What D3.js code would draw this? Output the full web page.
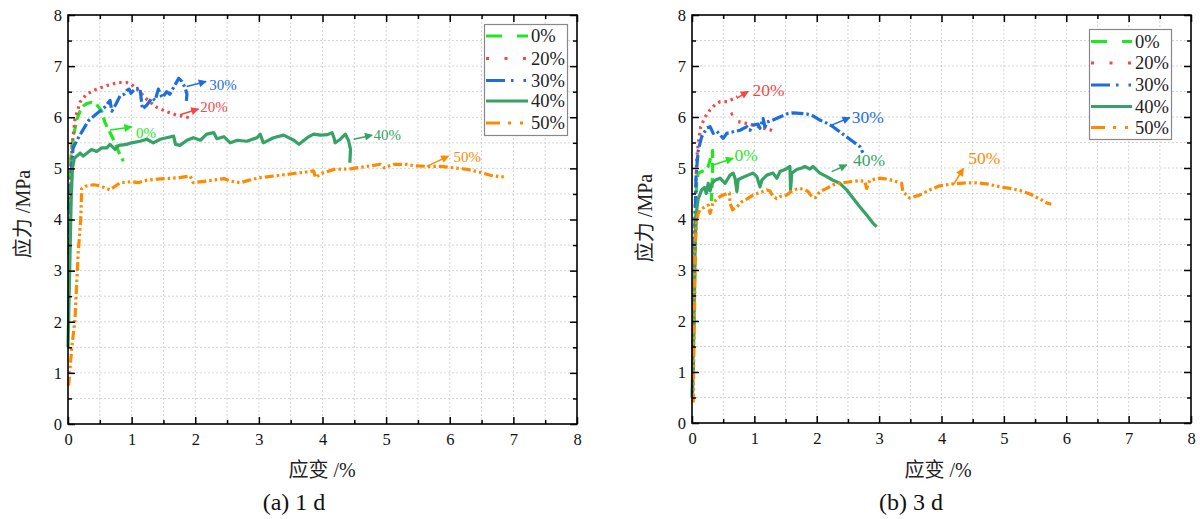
<!DOCTYPE html>
<html><head><meta charset="utf-8">
<script src="https://cdn.jsdelivr.net/npm/d3@7/dist/d3.min.js"></script>
<style>
body{margin:0;background:#fff;}
</style></head>
<body><svg id="c" width="1200" height="519"></svg>
<script>
// ---------- data ----------
const seriesNames = ["0%","20%","30%","40%","50%"];
const seriesColors = ["#1fe81f","#f24848","#1c6ee0","#37a266","#ff8a00"];
const xTickValues = [0,1,2,3,4,5,6,7,8];
const yTickValues = [0,1,2,3,4,5,6,7,8];
const xTitle = "应变 /%";
const yTitle = "应力 /MPa";
const captions = ["(a) 1 d","(b) 3 d"];

// 1 d curves [strain %, stress MPa]; null marks a gap
const d1_0 = [[0.01,4.2],[0.03,4.7],[0.05,5.3],[0.08,5.6],[0.14,5.96],[0.19,6.12],[0.24,6.22],[0.3,6.27],[0.37,6.29],[0.45,6.25],[0.53,6.12],[0.58,5.9],[0.66,5.7],[0.74,5.5],[0.79,5.34],[0.87,5.14]];
const d1_20 = [[0.02,4.4],[0.04,5.0],[0.07,5.5],[0.11,5.96],[0.19,6.3],[0.29,6.45],[0.45,6.55],[0.61,6.62],[0.79,6.68],[0.92,6.68],[1.0,6.64],[1.11,6.52],[1.24,6.35],[1.4,6.19],[1.55,6.11],[1.71,6.04],[1.84,6.01],[1.96,5.98]];
const d1_30 = [[0.02,3.3],[0.04,4.3],[0.06,5.1],[0.08,5.4],[0.14,5.55],[0.21,5.7],[0.32,5.93],[0.45,6.07],[0.58,6.2],[0.66,6.33],[0.69,6.12],[0.75,6.25],[0.82,6.42],[0.88,6.45],[0.92,6.52],[0.96,6.55],[0.99,6.47],[1.06,6.56],[1.13,6.57],[1.17,6.16],[1.24,6.24],[1.32,6.38],[1.37,6.33],[1.42,6.55],[1.48,6.38],[1.55,6.5],[1.6,6.45],[1.69,6.65],[1.74,6.76],[1.79,6.7],[1.84,6.58],[1.87,6.45],[1.86,6.32]];
const d1_40 = [[0.0,1.5],[0.03,3.2],[0.05,4.4],[0.07,5.0],[0.1,5.2],[0.14,5.24],[0.19,5.3],[0.24,5.24],[0.3,5.3],[0.37,5.37],[0.45,5.33],[0.53,5.4],[0.61,5.4],[0.66,5.47],[0.74,5.37],[0.8,5.45],[0.92,5.47],[1.0,5.5],[1.13,5.53],[1.24,5.57],[1.34,5.5],[1.45,5.57],[1.55,5.6],[1.66,5.63],[1.69,5.47],[1.76,5.45],[1.87,5.55],[1.97,5.6],[2.08,5.55],[2.18,5.67],[2.29,5.7],[2.34,5.58],[2.45,5.62],[2.55,5.5],[2.66,5.55],[2.81,5.53],[2.97,5.6],[3.02,5.67],[3.07,5.5],[3.23,5.6],[3.39,5.65],[3.55,5.55],[3.63,5.47],[3.76,5.6],[3.86,5.67],[3.97,5.65],[4.08,5.66],[4.15,5.7],[4.18,5.6],[4.2,5.5],[4.28,5.57],[4.36,5.67],[4.41,5.54],[4.44,5.37],[4.43,5.11]];
const d1_50 = [[0.01,0.75],[0.06,1.5],[0.11,2.05],[0.16,3.35],[0.2,4.0],[0.215,4.6],[0.27,4.65],[0.4,4.68],[0.5,4.66],[0.58,4.62],[0.66,4.58],[0.74,4.65],[0.82,4.72],[1.0,4.74],[1.1,4.72],[1.24,4.77],[1.4,4.79],[1.55,4.8],[1.75,4.82],[1.92,4.85],[1.97,4.72],[2.1,4.74],[2.34,4.78],[2.45,4.8],[2.55,4.75],[2.71,4.72],[2.85,4.77],[3.02,4.82],[3.3,4.86],[3.55,4.9],[3.75,4.93],[3.86,4.95],[3.89,4.82],[3.98,4.9],[4.18,4.98],[4.44,4.99],[4.7,5.04],[4.91,5.08],[4.97,5.01],[5.12,5.08],[5.33,5.08],[5.45,5.05],[5.65,5.04],[5.86,5.04],[6.07,5.01],[6.28,4.98],[6.49,4.92],[6.65,4.86],[6.86,4.83]];

// 3 d curves
const d3_0 = [[0.02,1.0],[0.04,2.5],[0.055,3.8],[0.064,4.18],[0.075,4.7],[0.1,4.9],[0.155,4.93],[0.2,4.95],[0.26,5.03],[0.29,5.16],[0.32,5.29],[0.33,5.34],[0.33,4.96],[0.32,4.6],[0.31,4.35]];
const d3_20 = [[0.01,0.8],[0.03,2.5],[0.04,3.6],[0.05,4.18],[0.075,5.16],[0.1,5.48],[0.14,5.81],[0.21,6.0],[0.29,6.14],[0.37,6.24],[0.45,6.3],[0.56,6.3],[0.61,6.33],[0.69,6.37],[0.73,6.4],null,[0.62,6.05],[0.66,6.07],[0.7,6.1],null,[0.74,5.91],[0.85,5.88],[0.95,5.85],[1.04,5.82],[1.14,5.78],[1.25,5.75],[1.33,5.71]];
const d3_30 = [[0.01,0.6],[0.03,2.5],[0.05,4.0],[0.064,4.83],[0.1,5.35],[0.155,5.61],[0.235,5.78],[0.29,5.81],[0.34,5.68],[0.4,5.72],[0.45,5.65],[0.5,5.58],[0.56,5.68],[0.66,5.71],[0.77,5.74],[0.88,5.81],[0.93,5.74],[0.98,5.84],[1.06,5.86],[1.09,5.78],[1.14,5.97],[1.17,5.8],[1.2,5.9],[1.3,5.94],[1.41,6.0],[1.52,6.06],[1.62,6.08],[1.73,6.07],[1.84,6.06],[1.94,6.02],[2.05,5.94],[2.16,5.88],[2.26,5.81],[2.37,5.71],[2.48,5.61],[2.58,5.52],[2.69,5.42],[2.74,5.3]];
const d3_40 = [[0.0,0.5],[0.03,2.0],[0.05,3.5],[0.075,4.18],[0.1,4.4],[0.155,4.57],[0.2,4.62],[0.23,4.5],[0.26,4.7],[0.29,4.55],[0.32,4.7],[0.37,4.76],[0.45,4.8],[0.53,4.7],[0.61,4.86],[0.66,4.9],[0.69,4.8],[0.72,4.54],[0.74,4.77],[0.82,4.82],[0.9,4.86],[0.98,4.9],[1.04,4.83],[1.09,4.63],[1.12,4.76],[1.2,4.86],[1.3,4.9],[1.36,4.8],[1.41,4.93],[1.49,4.97],[1.57,5.03],[1.58,4.57],[1.6,4.9],[1.68,4.97],[1.76,5.0],[1.81,5.03],[1.89,4.98],[1.94,5.03],[2.0,4.96],[2.05,4.9],[2.16,4.83],[2.26,4.76],[2.37,4.7],[2.48,4.57],[2.58,4.41],[2.69,4.24],[2.8,4.08],[2.9,3.92],[2.96,3.85]];
const d3_50 = [[0.02,0.4],[0.03,1.5],[0.04,2.15],[0.05,3.46],[0.075,3.98],[0.1,4.11],[0.13,4.18],[0.21,4.24],[0.26,4.27],[0.29,4.11],[0.34,4.34],[0.4,4.38],[0.45,4.44],[0.5,4.47],[0.56,4.5],[0.6,4.51],[0.61,4.31],[0.65,4.18],[0.72,4.24],[0.8,4.34],[0.89,4.4],[0.98,4.47],[1.09,4.52],[1.2,4.57],[1.25,4.55],[1.3,4.44],[1.36,4.4],[1.41,4.44],[1.52,4.47],[1.62,4.57],[1.73,4.6],[1.81,4.57],[1.86,4.54],[1.92,4.44],[1.98,4.42],[2.05,4.54],[2.16,4.6],[2.26,4.67],[2.37,4.7],[2.53,4.73],[2.69,4.75],[2.77,4.74],[2.8,4.6],[2.85,4.76],[3.01,4.8],[3.15,4.78],[3.28,4.73],[3.36,4.7],[3.38,4.54],[3.49,4.41],[3.65,4.47],[3.81,4.57],[3.97,4.65],[4.19,4.69],[4.4,4.71],[4.56,4.71],[4.72,4.69],[4.94,4.63],[5.1,4.6],[5.26,4.56],[5.42,4.49],[5.58,4.39],[5.68,4.32],[5.76,4.29]];

// annotations: [label, series index, arrow x0, y0, arrow x1, y1, text x, text y] in data units
const notes1 = [["30%",2,1.866,6.60,2.17,6.70,2.22,6.63],["20%",1,1.76,6.05,2.05,6.16,2.08,6.20],["0%",0,0.66,5.75,1.0,5.81,1.07,5.70],["40%",3,4.49,5.57,4.78,5.65,4.80,5.65],["50%",4,5.64,5.04,5.98,5.24,6.06,5.22]];
const notes3 = [["0%",0,0.34,5.06,0.66,5.19,0.68,5.25],["20%",1,0.72,6.37,0.9,6.5,0.97,6.53],["30%",2,2.24,5.84,2.53,5.99,2.56,6.0],["40%",3,2.24,4.93,2.48,5.06,2.58,5.16],["50%",4,4.19,4.67,4.35,4.99,4.43,5.19]];

// ---------- drawing ----------
const FONT = '"Liberation Serif", "Noto Sans CJK SC", serif';
const svg = d3.select("#c").style("font-family", FONT);
const plotDash = ["10,5","2.5,4","12,3,2.5,3",null,"9,3,2.5,3,2.5,3"];
const legendDash = ["16,15","3,15.5","19,6,2.5,10,2.5,10",null,"14,8,3,9,3,9"];

const defs = svg.append("defs");
seriesColors.forEach((c,i)=>{
  defs.append("marker").attr("id","ar"+i).attr("viewBox","0 0 10 10")
    .attr("refX",9).attr("refY",5).attr("markerUnits","userSpaceOnUse")
    .attr("markerWidth",10).attr("markerHeight",8).attr("orient","auto")
    .append("path").attr("d","M0,0L10,5L0,10Z").attr("fill",c);
});

const panels = [
  {x0:68,x1:577,y0:424,y1:15,data:[d1_0,d1_20,d1_30,d1_40,d1_50],notes:notes1,noteSize:15,
   legend:{x:484.5,y:24.5,w:83,h:111,lx:486,lw:42,tx:531,rows:[36,58.5,80.5,101,123]},
   yt:{x:23,y:214},xt:{x:322,y:477},cap:{x:294,y:510}},
  {x0:692,x1:1191,y0:423,y1:15,data:[d3_0,d3_20,d3_30,d3_40,d3_50],notes:notes3,noteSize:17.5,
   legend:{x:1089.5,y:29.5,w:82,h:110,lx:1091,lw:41,tx:1135,rows:[41.5,63,85,106.5,127.5]},
   yt:{x:645,y:218},xt:{x:938,y:477},cap:{x:911,y:510}}
];

function txt(sel){ return sel.style("font-family", FONT); }

panels.forEach((p,pi)=>{
  const x = d3.scaleLinear().domain([0,8]).range([p.x0,p.x1]);
  const y = d3.scaleLinear().domain([0,8]).range([p.y0,p.y1]);
  const g = svg.append("g");
  // grid
  const gv = d3.range(0.5,8,0.5);
  g.selectAll(".gx").data(gv).join("line")
    .attr("x1",d=>x(d)).attr("x2",d=>x(d)).attr("y1",p.y0).attr("y2",p.y1)
    .attr("stroke","#c9c9c9").attr("stroke-width",0.8).attr("stroke-dasharray","2,2");
  g.selectAll(".gy").data(gv).join("line")
    .attr("y1",d=>y(d)).attr("y2",d=>y(d)).attr("x1",p.x0).attr("x2",p.x1)
    .attr("stroke","#c9c9c9").attr("stroke-width",0.8).attr("stroke-dasharray","2,2");

  // curves
  const line = d3.line().defined(d=>d!==null).x(d=>x(d[0])).y(d=>y(d[1]));
  p.data.forEach((arr,i)=>{
    g.append("path").attr("d",line(arr)).attr("fill","none")
      .attr("stroke",seriesColors[i]).attr("stroke-width",3.2)
      .attr("stroke-linejoin","round")
      .attr("stroke-dasharray",plotDash[i]);
  });

  // annotations
  p.notes.forEach(n=>{
    const c = seriesColors[n[1]];
    g.append("line").attr("x1",x(n[2])).attr("y1",y(n[3])).attr("x2",x(n[4])).attr("y2",y(n[5]))
      .attr("stroke",c).attr("stroke-width",1.5).attr("marker-end","url(#ar"+n[1]+")");
    txt(g.append("text")).attr("x",x(n[6])).attr("y",y(n[7])).attr("dy","0.35em")
      .attr("font-size",p.noteSize).attr("fill",c).text(n[0]);
  });

  // axes
  const majorT = 7, minorT = 4;
  const minorV = d3.range(0.5,8,1);
  const ax = [
    g.append("g").attr("transform",`translate(0,${p.y0})`).call(d3.axisBottom(x).tickValues(xTickValues).tickSize(-majorT).tickPadding(9).tickFormat(d3.format("d"))),
    g.append("g").attr("transform",`translate(0,${p.y0})`).call(d3.axisBottom(x).tickValues(minorV).tickSize(-minorT).tickFormat("")),
    g.append("g").attr("transform",`translate(0,${p.y1})`).call(d3.axisTop(x).tickValues(xTickValues).tickSize(-majorT).tickFormat("")),
    g.append("g").attr("transform",`translate(0,${p.y1})`).call(d3.axisTop(x).tickValues(minorV).tickSize(-minorT).tickFormat("")),
    g.append("g").attr("transform",`translate(${p.x0},0)`).call(d3.axisLeft(y).tickValues(yTickValues).tickSize(-majorT).tickPadding(6).tickFormat(d3.format("d"))),
    g.append("g").attr("transform",`translate(${p.x0},0)`).call(d3.axisLeft(y).tickValues(minorV).tickSize(-minorT).tickFormat("")),
    g.append("g").attr("transform",`translate(${p.x1},0)`).call(d3.axisRight(y).tickValues(yTickValues).tickSize(-majorT).tickFormat("")),
    g.append("g").attr("transform",`translate(${p.x1},0)`).call(d3.axisRight(y).tickValues(minorV).tickSize(-minorT).tickFormat(""))
  ];
  ax.forEach(a=>{
    a.attr("font-family",null).style("font-family",FONT);
    a.select(".domain").remove();
    a.selectAll(".tick line").attr("stroke","#000").attr("stroke-width",1.5);
    txt(a.selectAll(".tick text")).attr("font-size",16.5).attr("fill","#111");
  });
  // frame
  g.append("rect").attr("x",p.x0).attr("y",p.y1).attr("width",p.x1-p.x0).attr("height",p.y0-p.y1)
    .attr("fill","none").attr("stroke","#000").attr("stroke-width",1.6);

  // legend
  const L = p.legend;
  const lg = g.append("g");
  lg.append("rect").attr("x",L.x).attr("y",L.y).attr("width",L.w).attr("height",L.h)
    .attr("fill","#fff").attr("stroke","#888").attr("stroke-width",1.2);
  seriesNames.forEach((s,i)=>{
    lg.append("line").attr("x1",L.lx).attr("x2",L.lx+L.lw).attr("y1",L.rows[i]).attr("y2",L.rows[i])
      .attr("stroke",seriesColors[i]).attr("stroke-width",3).attr("stroke-dasharray",legendDash[i]);
    txt(lg.append("text")).attr("x",L.tx).attr("y",L.rows[i]).attr("dy","0.35em")
      .attr("font-size",18.5).attr("fill","#222").text(s);
  });

  // titles
  txt(g.append("text")).attr("transform",`translate(${p.yt.x},${p.yt.y}) rotate(-90)`)
    .attr("text-anchor","middle").attr("dy","0.35em").attr("font-size",20).attr("fill","#222").text(yTitle);
  txt(g.append("text")).attr("x",p.xt.x).attr("y",p.xt.y).attr("text-anchor","middle")
    .attr("font-size",20).attr("fill","#222").text(xTitle);
  txt(g.append("text")).attr("x",p.cap.x).attr("y",p.cap.y).attr("text-anchor","middle")
    .attr("font-size",24).attr("fill","#111").text(captions[pi]);
});
</script></body></html>
